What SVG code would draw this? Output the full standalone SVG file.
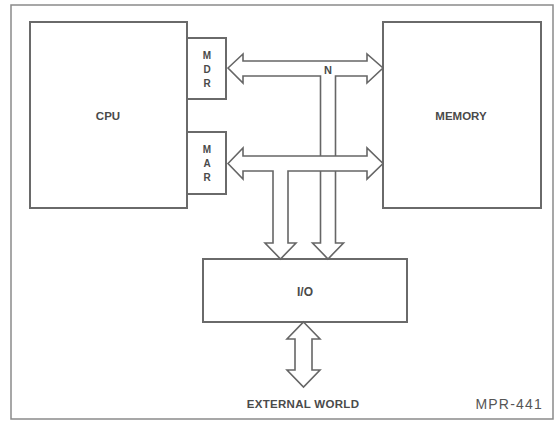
<svg xmlns="http://www.w3.org/2000/svg" width="556" height="421" viewBox="0 0 556 421">
<style>
.box{fill:#fff;stroke:#6a6a6a;stroke-width:2}
.bus{fill:#fff;stroke:#666;stroke-width:1.6;stroke-linejoin:miter}
.lbl{font-family:"Liberation Sans",Arial,sans-serif;font-weight:bold;fill:#4a4a4a;text-anchor:middle}
</style>
<rect x="0" y="0" width="556" height="421" fill="#fff"/>
<rect x="11" y="5" width="542" height="414" fill="none" stroke="#8a8a8a" stroke-width="1.5"/>
<g id="cpu">
<rect class="box" x="30" y="22" width="157" height="186"/>
<text class="lbl" x="108" y="120" font-size="11.5">CPU</text>
</g>
<g id="mdr">
<rect class="box" x="187" y="38" width="39" height="61"/>
<text class="lbl" x="207" y="59" font-size="10">M</text>
<text class="lbl" x="207" y="73" font-size="10">D</text>
<text class="lbl" x="207" y="87" font-size="10">R</text>
</g>
<g id="mar">
<rect class="box" x="187" y="132" width="39" height="62"/>
<text class="lbl" x="207" y="153" font-size="10">M</text>
<text class="lbl" x="207" y="167" font-size="10">A</text>
<text class="lbl" x="207" y="181" font-size="10">R</text>
</g>
<g id="memory">
<rect class="box" x="383" y="22" width="158" height="186"/>
<text class="lbl" x="461" y="120" font-size="11.5">MEMORY</text>
</g>
<g id="io">
<rect class="box" x="203" y="259" width="204" height="63"/>
<text class="lbl" x="305" y="296" font-size="12">I/O</text>
</g>
<g id="connectors">
<path class="bus" d="M228,68 L243,54 L243,61 L367,61 L367,54 L383,68 L367,83 L367,76 L335.5,76 L335.5,243 L343.5,243 L328,259 L312.5,243 L320.5,243 L320.5,76 L243,76 L243,83 Z"/>
<path class="bus" d="M228,163.5 L243,148 L243,156 L367,156 L367,148 L383,163.5 L367,179 L367,171 L288,171 L288,243 L296,243 L280.5,259 L265,243 L273,243 L273,171 L243,171 L243,179 Z"/>
<path class="bus" d="M303.5,322 L320,339 L312,339 L312,370 L320,370 L303.5,387 L287,370 L295,370 L295,339 L287,339 Z"/>
<text class="lbl" x="328" y="74" font-size="11">N</text>
</g>
<text class="lbl" x="303" y="408" font-size="11.5" letter-spacing="0.3">EXTERNAL WORLD</text>
<text x="543" y="409" font-family="'Liberation Sans',Arial,sans-serif" font-size="14" letter-spacing="1.2" fill="#555" text-anchor="end">MPR-441</text>
</svg>
